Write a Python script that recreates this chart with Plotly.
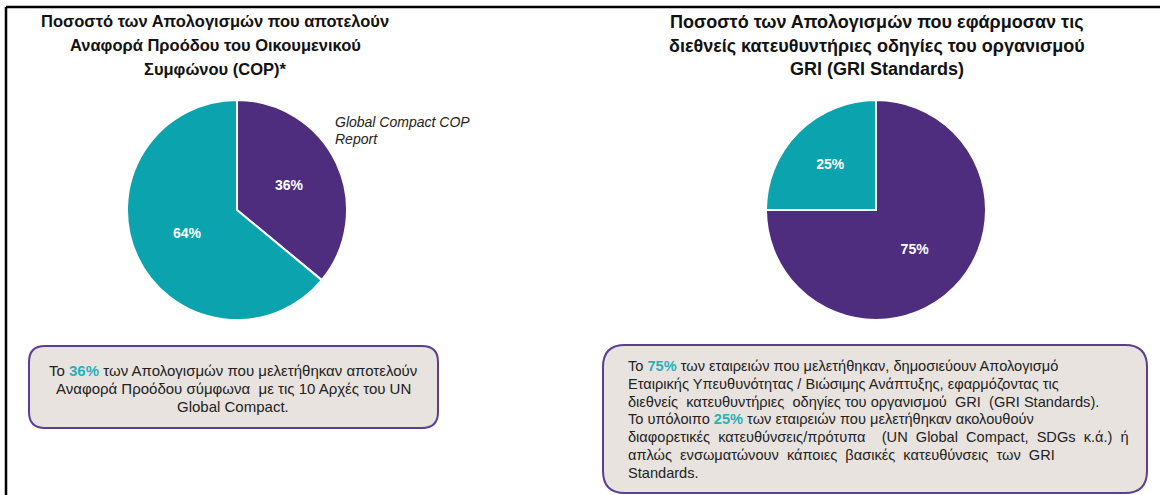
import plotly.graph_objects as go

# ---- data ----
pie1_labels = ["Global Compact COP Report", "Άλλο"]
pie1_values = [36, 64]
pie2_labels = ["GRI Standards", "Άλλο"]
pie2_values = [75, 25]

title1_lines = ["Ποσοστό των Απολογισμών που αποτελούν",
                "Αναφορά Προόδου του Οικουμενικού",
                "Συμφώνου (COP)*"]
title2_lines = ["Ποσοστό των Απολογισμών που εφάρμοσαν τις",
                "διεθνείς κατευθυντήριες οδηγίες του οργανισμού",
                "GRI (GRI Standards)"]
callout1_lines = ["Global Compact COP", "Report"]

HL = "#2AB1BA"
def hl(s):
    return "<span style='color:%s'><b>%s</b></span>" % (HL, s)

box1_lines = ["Το " + hl("36%") + " των Απολογισμών που μελετήθηκαν αποτελούν",
              "Αναφορά Προόδου σύμφωνα  με τις 10 Αρχές του UN",
              "Global Compact."]
box2_lines = ["Το " + hl("75%") + " των εταιρειών που μελετήθηκαν, δημοσιεύουν Απολογισμό",
              "Εταιρικής Υπευθυνότητας / Βιώσιμης Ανάπτυξης, εφαρμόζοντας τις",
              "διεθνείς  κατευθυντήριες  οδηγίες του οργανισμού  GRI  (GRI Standards).",
              "Το υπόλοιπο " + hl("25%") + " των εταιρειών που μελετήθηκαν ακολουθούν",
              "διαφορετικές  κατευθύνσεις/πρότυπα    (UN  Global  Compact,  SDGs  κ.ά.)  ή",
              "απλώς  ενσωματώνουν  κάποιες  βασικές  κατευθύνσεις  των  GRI",
              "Standards."]

PURPLE = "#4E2C7E"
TEAL = "#0AA3AE"
BOXFILL = "#E8E3DF"
BOXLINE = "#5C3E91"
W, H = 1160, 495
FONT = "Liberation Sans, Arial, sans-serif"


def dom(cx, cy, r):
    return dict(x=[(cx - r) / W, (cx + r) / W], y=[1 - (cy + r) / H, 1 - (cy - r) / H])


fig = go.Figure()
for vals, labs, d in [(pie1_values, pie1_labels, dom(237, 210, 110)),
                      (pie2_values, pie2_labels, dom(876, 210, 110))]:
    fig.add_trace(go.Pie(
        labels=labs, values=vals, sort=False, direction="clockwise", rotation=0,
        marker=dict(colors=[PURPLE, TEAL], line=dict(color="white", width=2)),
        textinfo="percent", textposition="inside", insidetextorientation="horizontal",
        textfont=dict(color="white", size=14, family=FONT, weight="bold"),
        domain=d, showlegend=False, hoverinfo="label+percent"))


def rrect(x0, y0, x1, y1, r):
    return (f"M{x0+r},{y0} L{x1-r},{y0} Q{x1},{y0} {x1},{y0+r} L{x1},{y1-r} Q{x1},{y1} {x1-r},{y1} "
            f"L{x0+r},{y1} Q{x0},{y1} {x0},{y1-r} L{x0},{y0+r} Q{x0},{y0} {x0+r},{y0} Z")


shapes = [
    dict(type="path", xref="x", yref="y", path=rrect(29, 346, 438, 428, 16),
         fillcolor=BOXFILL, line=dict(color=BOXLINE, width=2), layer="below"),
    dict(type="path", xref="x", yref="y", path=rrect(603, 345, 1147, 493, 22),
         fillcolor=BOXFILL, line=dict(color=BOXLINE, width=2), layer="below"),
    dict(type="line", xref="x", yref="y", x0=6, x1=1160, y0=7, y1=7, line=dict(color="black", width=2.5)),
    dict(type="line", xref="x", yref="y", x0=6, x1=6, y0=7, y1=495, line=dict(color="black", width=2.5)),
]

annotations = []


def add_lines(lines, x, y0, dy, size, xanchor, bold=False, italic=False, color="#222"):
    for i, t in enumerate(lines):
        if bold:
            t = "<b>" + t + "</b>"
        if italic:
            t = "<i>" + t + "</i>"
        annotations.append(dict(x=x, y=y0 + i * dy, xref="x", yref="y", text=t, showarrow=False,
                                xanchor=xanchor, yanchor="middle",
                                font=dict(family=FONT, size=size, color=color)))


add_lines(title1_lines, 215, 21, 24, 16.5, "center", bold=True, color="#111")
add_lines(title2_lines, 877, 22, 23.5, 18, "center", bold=True, color="#111")
add_lines(callout1_lines, 333, 122, 17, 14, "left", italic=True)
add_lines(box1_lines, 233, 370, 18, 15, "center")
add_lines(box2_lines, 626, 366, 17.8, 14.6, "left")

fig.update_layout(
    width=W, height=H, margin=dict(l=0, r=0, t=0, b=0),
    paper_bgcolor="white", plot_bgcolor="rgba(0,0,0,0)",
    xaxis=dict(range=[0, W], visible=False, fixedrange=True),
    yaxis=dict(range=[H, 0], visible=False, fixedrange=True),
    shapes=shapes, annotations=annotations, showlegend=False,
)
fig.write_html("out.html")
